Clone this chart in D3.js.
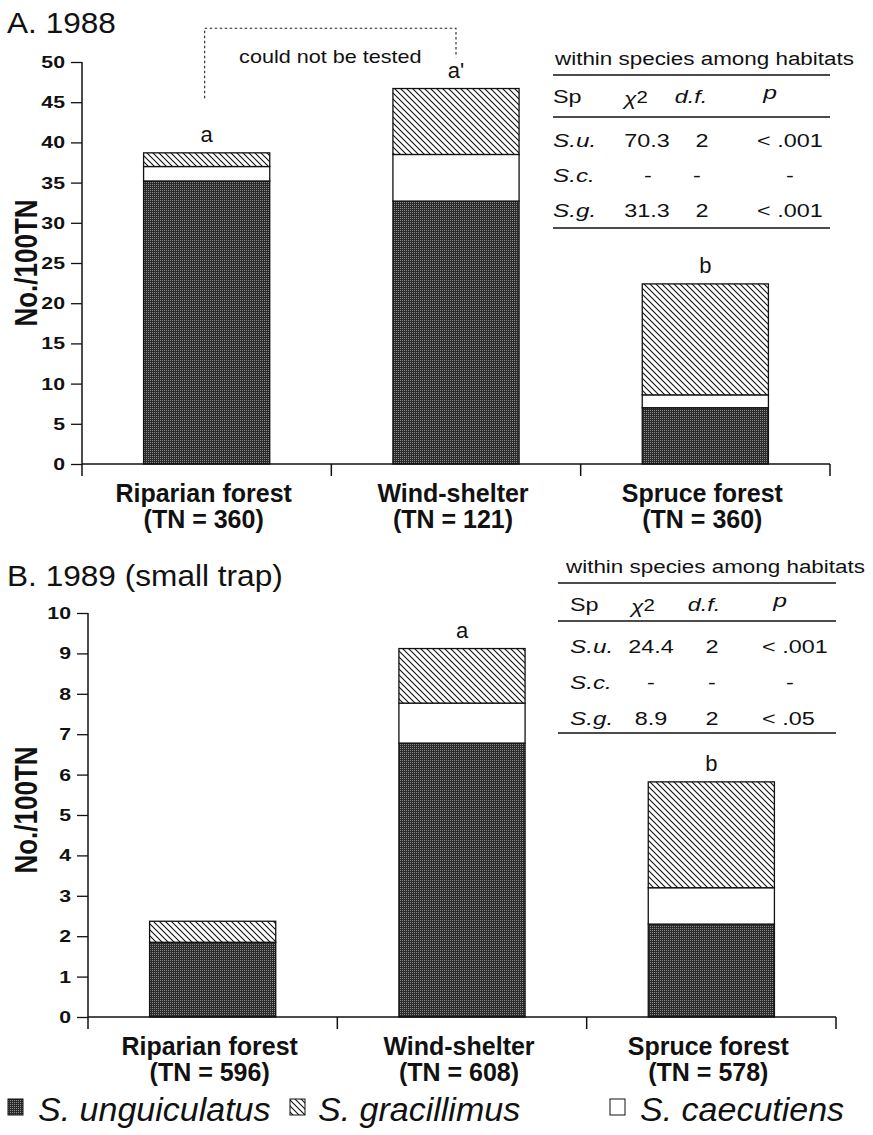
<!DOCTYPE html>
<html><head><meta charset="utf-8">
<script src="https://cdn.jsdelivr.net/npm/d3@7"></script>
<style>
body{margin:0;background:#fff}
svg{display:block}
text{font-family:"Liberation Sans",Arial,Helvetica,sans-serif;fill:#111}
</style>
</head><body>
<svg id="c" width="873" height="1135"></svg>
<script>
// ---------- DATA ----------
const categories = ["Riparian forest", "Wind-shelter", "Spruce forest"];
const tnA = ["(TN = 360)", "(TN = 121)", "(TN = 360)"];
const tnB = ["(TN = 596)", "(TN = 608)", "(TN = 578)"];
const speciesKeys = ["unguiculatus", "caecutiens", "gracillimus"]; // stack order bottom -> top
const legendLabels = ["S. unguiculatus", "S. gracillimus", "S. caecutiens"];
const legendKeys = ["unguiculatus", "gracillimus", "caecutiens"];

const unguiculatusA = [35.2, 32.7, 7.0];
const caecutiensA   = [1.8, 5.8, 1.6];
const gracillimusA  = [1.7, 8.2, 13.8];

const unguiculatusB = [1.85, 6.78, 2.3];
const caecutiensB   = [0, 0.99, 0.9];
const gracillimusB  = [0.52, 1.35, 2.62];

const lettersA = ["a", "a'", "b"];
const lettersB = ["", "a", "b"];

const ticksA = [0, 5, 10, 15, 20, 25, 30, 35, 40, 45, 50];
const ticksB = [0, 1, 2, 3, 4, 5, 6, 7, 8, 9, 10];

const tableTitle = "within species among habitats";
const tableHeader = ["Sp", "χ", "d.f.", "p"];
const tableRowsA = [["S.u.", "70.3", "2", "< .001"], ["S.c.", "-", "-", "-"], ["S.g.", "31.3", "2", "< .001"]];
const tableRowsB = [["S.u.", "24.4", "2", "< .001"], ["S.c.", "-", "-", "-"], ["S.g.", "8.9", "2", "< .05"]];

// bracket "could not be tested" (in data units of panel A)
const bracketFrom = "Riparian forest", bracketTo = "Wind-shelter";
const bracketLeftEnd = 45.5, bracketTop = 54.2, bracketRightEnd = 50.6;
const bracketText = "could not be tested";

// ---------- HELPERS ----------
const svg = d3.select("#c");
const defs = svg.append("defs");
const pd = defs.append("pattern").attr("id", "dark").attr("width", 2).attr("height", 2).attr("patternUnits", "userSpaceOnUse");
pd.append("rect").attr("width", 2).attr("height", 2).attr("fill", "#2a2a2a");
pd.append("rect").attr("width", 1).attr("height", 1).attr("fill", "#8e8e8e");
const ph = defs.append("pattern").attr("id", "hatch").attr("width", 6).attr("height", 6).attr("patternUnits", "userSpaceOnUse");
ph.append("rect").attr("width", 6).attr("height", 6).attr("fill", "#fff");
ph.append("path").attr("d", "M-1,-1 L7,7 M-1,5 L1,7 M5,-1 L7,1").attr("stroke", "#111").attr("stroke-width", 1.1);
const fills = {unguiculatus: "url(#dark)", caecutiens: "#fff", gracillimus: "url(#hatch)"};

function T(parent, x, y, s, o = {}) {
  const t = parent.append("text")
    .attr("transform", `translate(${x},${y})` + (o.rot ? ` rotate(${o.rot})` : "") + ` scale(${o.sx || 1},${o.sy || 1})`)
    .attr("font-size", o.size || 16)
    .attr("font-weight", o.weight || "normal")
    .attr("font-style", o.style || "normal")
    .attr("text-anchor", o.anchor || "start")
    .text(s);
  return t;
}

function panel(cfg) {
  const g = svg.append("g");
  const x = d3.scaleBand().domain(categories).range(cfg.xRange).paddingInner(0.494).paddingOuter(0.247);
  const y = d3.scaleLinear().domain(cfg.yDomain).range(cfg.yRange);
  const step = x.step();

  const rows = categories.map((c, i) => ({cat: c, unguiculatus: cfg.u[i], caecutiens: cfg.c[i], gracillimus: cfg.g[i]}));
  const stack = d3.stack().keys(speciesKeys)(rows);

  // bars
  stack.forEach(layer => {
    g.append("g").selectAll("rect").data(layer.filter(d => d[1] - d[0] > 0)).join("rect")
      .attr("x", d => x(d.data.cat))
      .attr("width", x.bandwidth())
      .attr("y", d => y(d[1]))
      .attr("height", d => y(d[0]) - y(d[1]))
      .attr("fill", fills[layer.key])
      .attr("stroke", "#111").attr("stroke-width", 1.3);
  });

  // y axis
  const x0 = cfg.xRange[0];
  const yAxis = d3.axisLeft(y).tickValues(cfg.ticks).tickSize(11).tickFormat("");
  const ya = g.append("g").attr("transform", `translate(${x0},0)`).call(yAxis);
  ya.select(".domain").remove();
  ya.selectAll("line").attr("stroke", "#111").attr("stroke-width", 1.3);
  g.append("line").attr("x1", x0).attr("x2", x0).attr("y1", y(cfg.yDomain[1])).attr("y2", y(0) + 12)
    .attr("stroke", "#111").attr("stroke-width", 1.5);
  cfg.ticks.forEach(v => T(g, x0 - 17, y(v) + 6, String(v), {size: 17, weight: "bold", anchor: "end", sx: 1.25}));

  // x axis
  g.append("line").attr("x1", x0).attr("x2", cfg.xRange[1]).attr("y1", y(0)).attr("y2", y(0))
    .attr("stroke", "#111").attr("stroke-width", 1.5);
  d3.range(1, categories.length + 1).forEach(i => {
    const bx = x0 + i * step;
    g.append("line").attr("x1", bx).attr("x2", bx).attr("y1", y(0)).attr("y2", y(0) + 12)
      .attr("stroke", "#111").attr("stroke-width", 1.5);
  });

  // category labels
  categories.forEach((c, i) => {
    const cx = x(c) + x.bandwidth() / 2 - 3;
    T(g, cx, cfg.labY, c, {size: 25, weight: "bold", anchor: "middle"});
    T(g, cx, cfg.labY + 26, cfg.tn[i], {size: 25, weight: "bold", anchor: "middle"});
  });

  // letters
  rows.forEach((r, i) => {
    if (!cfg.letters[i]) return;
    const tot = r.unguiculatus + r.caecutiens + r.gracillimus;
    T(g, x(r.cat) + x.bandwidth() / 2, y(tot) - 11, cfg.letters[i], {size: 22, anchor: "middle"});
  });

  // y label
  T(g, 37, cfg.yLabelY, "No./100TN", {size: 26, weight: "bold", anchor: "middle", rot: -90, sy: 1.2});

  // title
  T(g, 7, cfg.titleY, cfg.title, {size: 29, sx: 1.09});

  // table
  const tb = cfg.table;
  T(g, tb.titleX, tb.titleY, tableTitle, {size: 19, sx: 1.18});
  tb.lines.forEach(ly => g.append("line").attr("x1", tb.lx[0]).attr("x2", tb.lx[1]).attr("y1", ly).attr("y2", ly)
    .attr("stroke", "#111").attr("stroke-width", 1.3));
  // header
  T(g, tb.spX, tb.headY, tableHeader[0], {size: 18, sx: 1.3});
  const chi = T(g, tb.head[0], tb.headY + 2, tableHeader[1], {size: 19, style: "italic", anchor: "middle", sx: 1.2});
  chi.append("tspan").attr("font-style", "normal").attr("font-size", 17).attr("dy", -2).text("2");
  T(g, tb.head[1], tb.headY, tableHeader[2], {size: 18, style: "italic", anchor: "middle", sx: 1.3});
  T(g, tb.head[2], tb.headY - 4, tableHeader[3], {size: 19, style: "italic", anchor: "middle", sx: 1.3});
  cfg.rowsT.forEach((row, ri) => {
    const by = tb.rowY[ri];
    T(g, tb.spX, by, row[0], {size: 18, style: "italic", sx: 1.35});
    [1, 2].forEach(ci => {
      if (row[ci] === "-") T(g, tb.dash[ci - 1], by, "-", {size: 18, anchor: "middle", sx: 1.3});
      else T(g, tb.val[ci - 1], by, row[ci], {size: 18, anchor: "middle", sx: 1.3});
    });
    if (row[3] === "-") T(g, tb.dash[2], by, "-", {size: 18, anchor: "middle", sx: 1.3});
    else T(g, tb.pX, by, row[3], {size: 18, sx: 1.3});
  });
  return {g, x, y};
}

// ---------- PANEL A ----------
const A = panel({
  xRange: [82, 830], yDomain: [0, 50], yRange: [464, 62], ticks: ticksA,
  u: unguiculatusA, c: caecutiensA, g: gracillimusA, letters: lettersA, tn: tnA,
  labY: 502, yLabelY: 263, titleY: 33, title: "A. 1988", rowsT: tableRowsA,
  table: {titleX: 555, titleY: 65, lines: [75, 117, 228], lx: [553, 830], headY: 103,
          rowY: [147, 182, 217], spX: 553, head: [636, 691, 770], val: [647, 702], pX: 757, dash: [648, 697, 790]}
});

// bracket
{
  const {g, x, y} = A;
  const xl = x(bracketFrom) + x.bandwidth() / 2 - 2;
  const xr = x(bracketTo) + x.bandwidth() / 2;
  const path = d3.path();
  path.moveTo(xl, y(bracketLeftEnd)); path.lineTo(xl, y(bracketTop));
  path.lineTo(xr, y(bracketTop)); path.lineTo(xr, y(bracketRightEnd));
  g.append("path").attr("d", path.toString()).attr("fill", "none").attr("stroke", "#222")
    .attr("stroke-width", 1.1).attr("stroke-dasharray", "2.5,2.5");
  T(g, (xl + xr) / 2, y(bracketTop) + 35, bracketText, {size: 18, anchor: "middle", sx: 1.2});
}

// ---------- PANEL B ----------
panel({
  xRange: [88, 836], yDomain: [0, 10], yRange: [1017, 613], ticks: ticksB,
  u: unguiculatusB, c: caecutiensB, g: gracillimusB, letters: lettersB, tn: tnB,
  labY: 1055, yLabelY: 810, titleY: 586, title: "B. 1989 (small trap)", rowsT: tableRowsB,
  table: {titleX: 566, titleY: 573, lines: [583, 621, 733], lx: [558, 836], headY: 611,
          rowY: [653, 689, 725], spX: 570, head: [643, 704, 780], val: [651, 712], pX: 762, dash: [651, 712, 790]}
});

// ---------- LEGEND ----------
{
  const lg = svg.append("g");
  const boxX = [8, 290, 610], textX = [38, 318, 640];
  legendKeys.forEach((k, i) => {
    lg.append("rect").attr("x", boxX[i]).attr("y", 1099).attr("width", 15).attr("height", 16)
      .attr("fill", fills[k]).attr("stroke", "#111").attr("stroke-width", 1);
    T(lg, textX[i], 1121, legendLabels[i], {size: 34, style: "italic"});
  });
}
</script>
</body></html>
